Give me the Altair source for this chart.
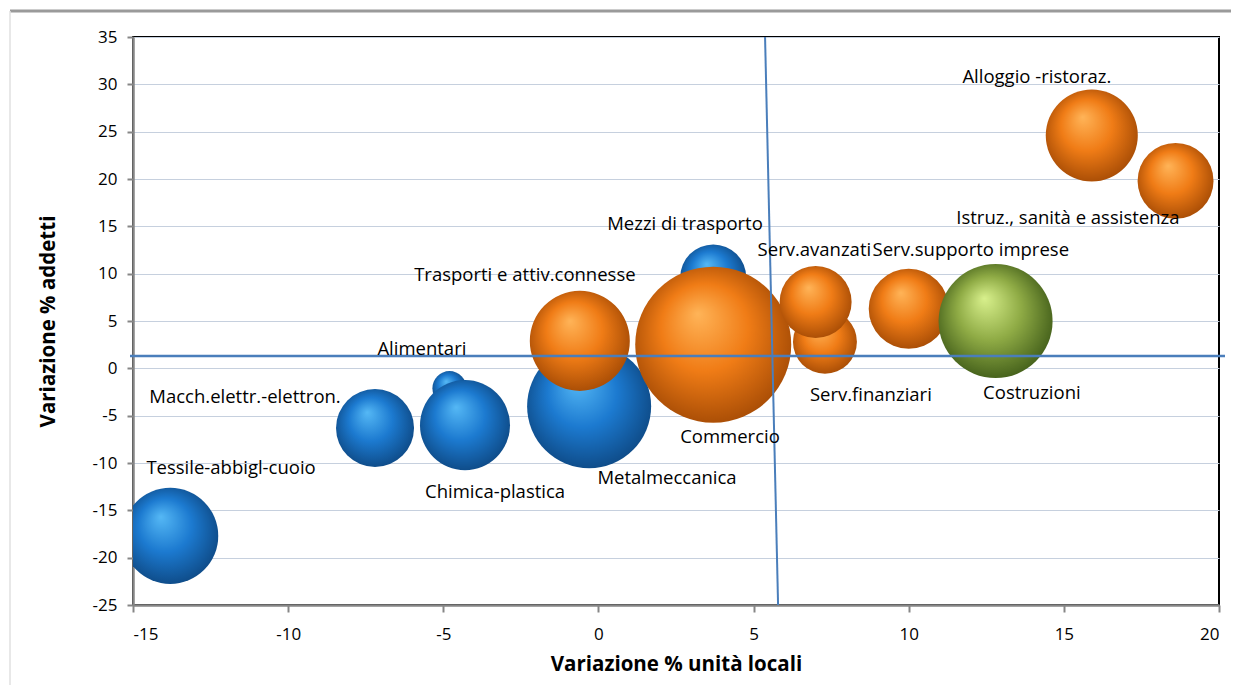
import altair as alt
import pandas as pd

# ---------------- data ----------------
settori = [
    "Tessile-abbigl-cuoio", "Macch.elettr.-elettron.", "Alimentari", "Chimica-plastica",
    "Metalmeccanica", "Mezzi di trasporto",
    "Trasporti e attiv.connesse", "Commercio", "Serv.finanziari", "Serv.avanzati",
    "Serv.supporto imprese", "Alloggio -ristoraz.", "Istruz., sanità e assistenza",
    "Costruzioni",
]
gruppo = [
    "manifattura", "manifattura", "manifattura", "manifattura", "manifattura", "manifattura",
    "servizi", "servizi", "servizi", "servizi", "servizi", "servizi", "servizi",
    "costruzioni",
]
var_unita_locali = [-13.8, -7.2, -4.8, -4.3, -0.3, 3.7, -0.6, 3.7, 7.3, 7.0, 10.0, 15.9, 18.6, 12.8]
var_addetti = [-17.7, -6.3, -2.1, -6.0, -4.0, 9.6, 2.9, 2.5, 2.8, 7.0, 6.3, 24.6, 19.8, 5.0]
peso = [37.9, 25.0, 4.8, 33.3, 63.2, 17.9, 41.1, 100.0, 16.8, 21.3, 26.3, 34.8, 23.7, 53.4]

# label anchor points (data units)
etichette = [
    "Tessile-abbigl-cuoio", "Macch.elettr.-elettron.", "Alimentari", "Chimica-plastica",
    "Metalmeccanica", "Mezzi di trasporto", "Trasporti e attiv.connesse", "Commercio",
    "Serv.finanziari", "Serv.avanzati", "Serv.supporto imprese", "Alloggio -ristoraz.",
    "Istruz., sanità e assistenza", "Costruzioni",
]
etichetta_x = [-11.84, -11.39, -5.69, -3.33, 2.21, 2.79, -2.37, 4.24, 8.78, 6.96, 12.0, 14.13, 15.13, 13.97]
etichetta_y = [-10.5, -3.0, 2.05, -13.05, -11.6, 15.25, 9.87, -7.3, -2.8, 12.5, 12.5, 30.8, 15.9, -2.6]

# quadrant lines
linea_v_x = [5.37, 5.79]
linea_v_y = [35, -25]
linea_h_y = 1.3

x_ticks = [-15, -10, -5, 0, 5, 10, 15, 20]
y_ticks = [-25, -20, -15, -10, -5, 0, 5, 10, 15, 20, 25, 30, 35]

# ---------------- build ----------------
df = pd.DataFrame({
    "settore": settori, "gruppo": gruppo,
    "x": var_unita_locali, "y": var_addetti, "peso": peso,
})
df_lab = pd.DataFrame({"testo": etichette, "x": etichetta_x, "y": etichetta_y})

FONT = "Open Sans"

xscale = alt.Scale(domain=[-15, 20], nice=False, zero=False)
yscale = alt.Scale(domain=[-25, 35], nice=False, zero=False)
sscale = alt.Scale(type="linear", domain=[0, 100], range=[0, 24336], zero=True)

X = alt.X("x:Q", scale=xscale,
          axis=alt.Axis(values=x_ticks, title="Variazione % unità locali", grid=False,
                        tickSize=7, labelPadding=14, titlePadding=12,
                        labelExpr="datum.value + ''"))
Y = alt.Y("y:Q", scale=yscale,
          axis=alt.Axis(values=y_ticks, title="Variazione % addetti", grid=True,
                        tickSize=6, labelPadding=10, titlePadding=34,
                        labelExpr="datum.value + ''"))


def grad(light, base, dark, rim):
    return alt.RadialGradient(
        gradient="radial",
        stops=[
            alt.GradientStop(color=light, offset=0.0),
            alt.GradientStop(color=base, offset=0.45),
            alt.GradientStop(color=dark, offset=0.88),
            alt.GradientStop(color=rim, offset=1.0),
        ],
        x1=0.4, y1=0.3, r1=0.0,
        x2=0.5, y2=0.5, r2=0.62,
    )


colori = {
    "manifattura": grad("#55b8f5", "#1c7ad0", "#0e4a86", "#1f6fb8"),
    "servizi": grad("#ffb458", "#f07c16", "#a74c05", "#d06a10"),
    "costruzioni": grad("#d8f08c", "#8fab45", "#435f1a", "#6f8a32"),
}

bubbles = []
for g in ["manifattura", "servizi", "costruzioni"]:
    bubbles.append(
        alt.Chart(df[df["gruppo"] == g])
        .mark_circle(opacity=1, fill=colori[g], stroke=None, clip=True)
        .encode(x=X, y=Y, size=alt.Size("peso:Q", scale=sscale, legend=None))
    )

grid_base = alt.Chart(pd.DataFrame({"x": [0], "y": [0]})).mark_point(opacity=0).encode(x=X, y=Y)

labels = alt.Chart(df_lab).mark_text(
    font=FONT, fontSize=18.5, color="#000000", align="center", baseline="middle"
).encode(x=alt.X("x:Q", scale=xscale), y=alt.Y("y:Q", scale=yscale), text="testo:N")

df_v = pd.DataFrame({"x": [linea_v_x[0]], "x2": [linea_v_x[1]],
                     "y": [linea_v_y[0]], "y2": [linea_v_y[1]]})
vline = alt.Chart(df_v).mark_rule(color="#4a7ebb", strokeWidth=2).encode(
    x=alt.X("x:Q", scale=xscale), x2="x2:Q", y=alt.Y("y:Q", scale=yscale), y2="y2:Q")

df_h = pd.DataFrame({"y": [linea_h_y]})
hline = alt.Chart(df_h).mark_rule(color="#4a7ebb", strokeWidth=2.5).encode(
    y=alt.Y("y:Q", scale=yscale), x=alt.value(-3), x2=alt.value(1092))

frame_top = alt.Chart(df_h).mark_rule(color="#9a9a9a", strokeWidth=3, clip=False).encode(
    x=alt.value(-123), x2=alt.value(1110), y=alt.value(-26))
frame_left = alt.Chart(df_h).mark_rule(color="#e0e0e0", strokeWidth=1.5, clip=False).encode(
    x=alt.value(-123), y=alt.value(-26), y2=alt.value(672))

chart = alt.layer(
    frame_top, frame_left, grid_base, *bubbles, vline, hline, labels
).properties(
    width=1086, height=568,
    padding={"left": 125, "top": 29, "right": 12, "bottom": 80},
    autosize=alt.AutoSizeParams(type="none"),
    background="#ffffff",
).configure_view(
    stroke="#000000", strokeWidth=2
).configure_axis(
    labelFont=FONT, labelFontSize=17, labelColor="#000000",
    titleFont=FONT, titleFontSize=20.5, titleFontWeight="bold", titleColor="#000000",
    domainColor="#868686", domainWidth=2.5, tickColor="#868686", tickWidth=2,
    gridColor="#c6d0de", gridWidth=1,
)

chart.save("out.html", embed_options={"renderer": "svg", "actions": False})
